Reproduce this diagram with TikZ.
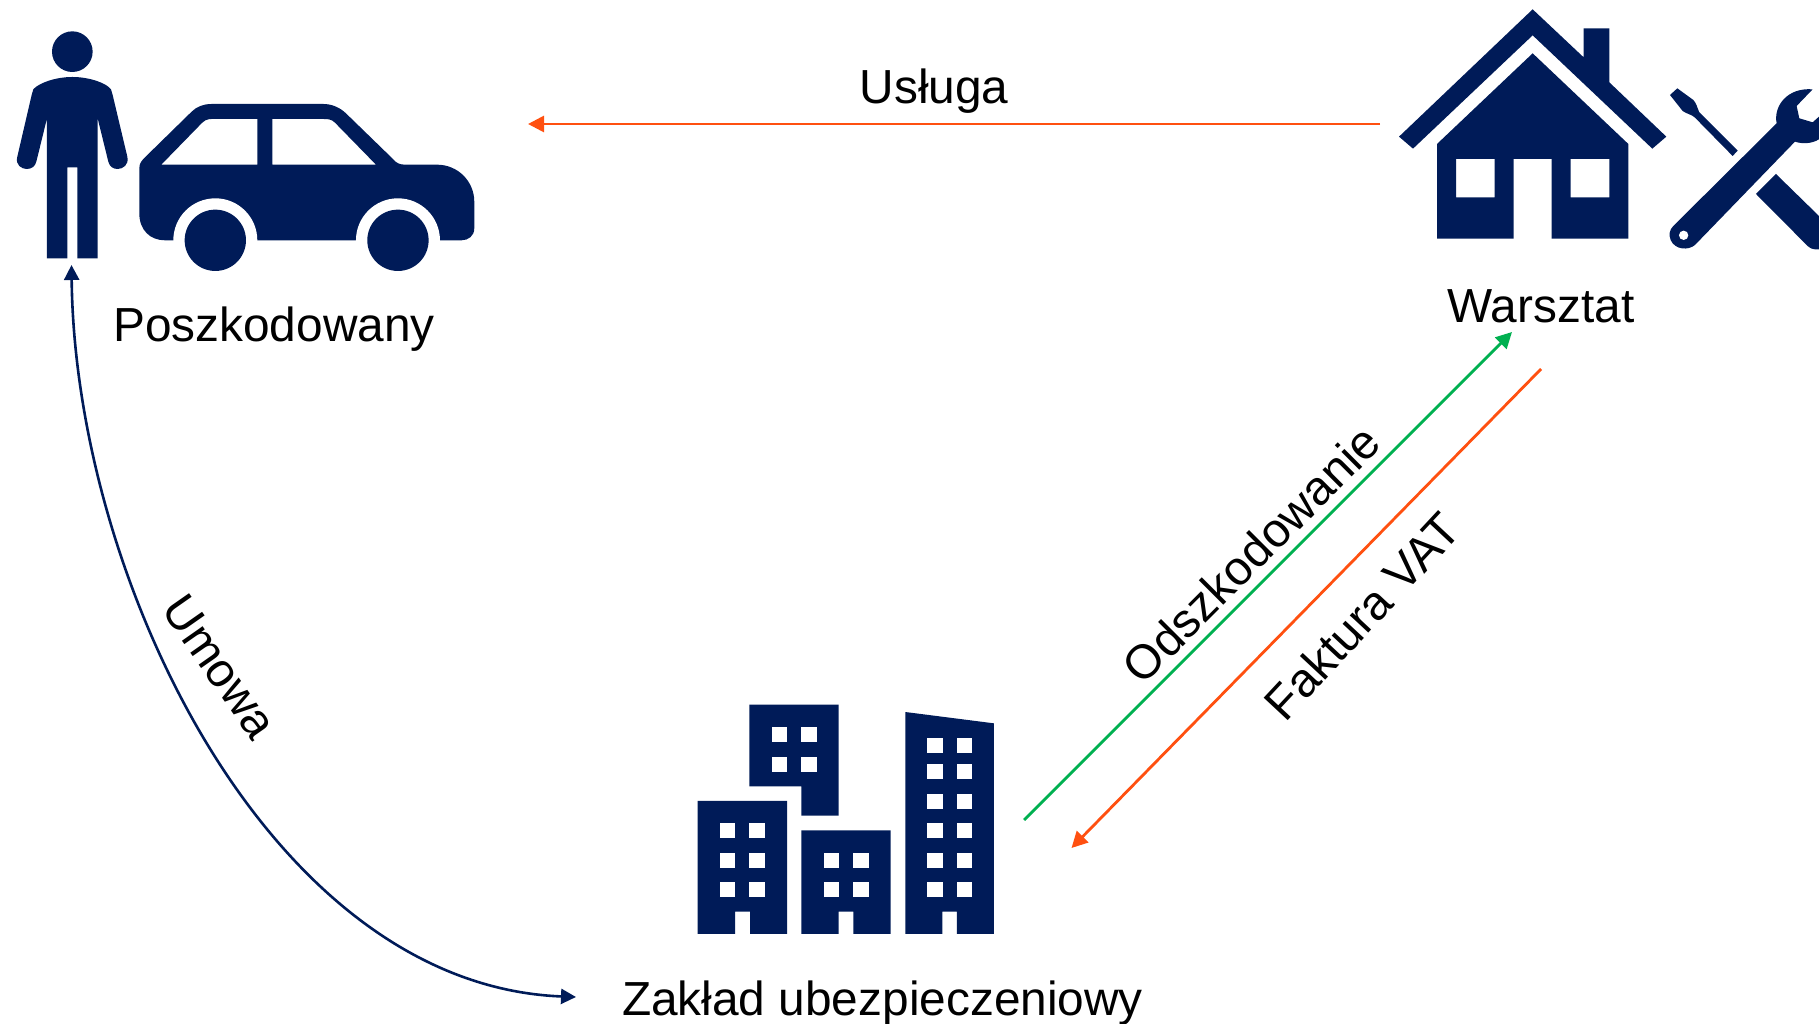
\documentclass[tikz,border=0pt]{standalone}
\usepackage{fontspec}
\setmainfont{Liberation Sans}
\usetikzlibrary{arrows.meta}
\definecolor{navy}{HTML}{001B58}
\definecolor{orng}{HTML}{FF5010}
\definecolor{grn}{HTML}{00B050}
\tikzset{
  icon/.style={fill=navy,draw=none},
  hole/.style={fill=white,draw=none},
  lbl/.style={inner sep=0pt,font=\fontsize{47.8}{50}\selectfont,text=black},
  conn/.style={line width=2.8pt,-{Triangle[length=16pt,width=16pt]}},
  zoomed/.style={x=0.3333pt,y=-0.3333pt}
}
\begin{document}
\begin{tikzpicture}[x=1pt,y=-1pt]
\useasboundingbox (0,0) rectangle (1819,1024);
% person and car
\begin{scope}[zoomed]
\fill[icon] (217,155) circle[radius=61];
\fill[icon] (217,231) .. controls (165,231) and (115,250) .. (100,268) -- (95,285) -- (52,470)
  .. controls (45,495) and (65,507) .. (80,507) .. controls (95,507) and (105,500) .. (109,485)
  -- (141,355) -- (141,775) -- (202,775) -- (202,502) -- (232,502) -- (232,775) -- (293,775) -- (293,355)
  -- (325,485) .. controls (329,500) and (339,507) .. (353,507) .. controls (368,507) and (388,495) .. (382,470)
  -- (338,285) -- (333,268) .. controls (320,250) and (270,231) .. (217,231) -- cycle;
\fill[icon,even odd rule] (418,505) .. controls (418,490) and (425,482) .. (435,472) -- (575,335)
  .. controls (590,320) and (610,312) .. (635,312) -- (970,312) .. controls (995,312) and (1020,322) .. (1040,342)
  -- (1180,478) .. controls (1190,490) and (1200,494) .. (1215,494) -- (1310,494)
  .. controls (1375,494) and (1423,545) .. (1423,605) -- (1423,685) .. controls (1423,708) and (1405,721) .. (1385,721)
  -- (495,721) .. controls (450,721) and (418,690) .. (418,640) -- cycle
  (484,494) -- (600,375) .. controls (612,362) and (620,357) .. (635,357) -- (772,357) -- (772,494) -- cycle
  (817,357) -- (970,357) .. controls (985,357) and (995,358) .. (1005,368) -- (1128,494) -- (817,494) -- cycle;
\fill[hole] (646,721) circle[radius=126] (1194,721) circle[radius=126];
\fill[icon] (646,721) circle[radius=92] (1194,721) circle[radius=92];
\end{scope}
% house and tools
\begin{scope}[zoomed,shift={(1380pt,0pt)}]
\fill[icon] (458,28) -- (611,172) -- (611,85) -- (688,85) -- (688,247) -- (859,410) -- (817,446) -- (458,106) -- (99,446) -- (57,410) -- cycle;
\fill[icon,even odd rule] (458,160) -- (745,432) -- (745,716) -- (515,716) -- (515,477) -- (401,477) -- (401,716) -- (171,716) -- (171,432) -- cycle
  (228,477) rectangle (344,592) (572,477) rectangle (688,592);
\fill[icon] (870,285) -- (892,265) -- (940,300) .. controls (950,310) and (952,325) .. (958,337) -- (1073,452) -- (1058,468) -- (945,353) .. controls (935,343) and (920,342) .. (908,333) -- cycle;
\fill[icon] (1190,370) .. controls (1180,320) and (1220,262) .. (1298,268) -- (1250,318) -- (1258,355) -- (1298,367) -- (1317,350) -- (1317,418)
  .. controls (1295,432) and (1265,432) .. (1245,425) -- (945,735) .. controls (925,752) and (885,750) .. (872,720) .. controls (866,705) and (868,690) .. (880,678) -- cycle;
\fill[hole] (911,706) circle[radius=14];
\fill[icon] (1128,582) -- (1188,522) -- (1317,648) -- (1317,748) -- (1305,748) .. controls (1290,748) and (1280,735) .. (1275,730) -- cycle;
\end{scope}
% buildings
\begin{scope}[zoomed,shift={(680pt,-690pt)}]
\fill[icon] (208,44) -- (476,44) -- (476,377) -- (364,377) -- (364,289) -- (208,289) -- cycle;
\fill[icon] (53,333) -- (321,333) -- (321,732) -- (210,732) -- (210,665) -- (165,665) -- (165,732) -- (53,732) -- cycle;
\fill[icon] (364,421) -- (632,421) -- (632,732) -- (520,732) -- (520,665) -- (476,665) -- (476,732) -- (364,732) -- cycle;
\fill[icon] (676,66) -- (942,100) -- (942,732) -- (831,732) -- (831,665) -- (787,665) -- (787,732) -- (676,732) -- cycle;
\foreach \xa in {275,364} \foreach \ya in {111,200}
  \fill[hole] (\xa,\ya) rectangle ++(46,45);
\foreach \xa in {120,208} \foreach \ya in {400,488,577}
  \fill[hole] (\xa,\ya) rectangle ++(46,45);
\foreach \xa in {431,520} \foreach \ya in {488,577}
  \fill[hole] (\xa,\ya) rectangle ++(46,45);
\foreach \xa in {742,831} \foreach \ya in {144,222,311,400,488,577}
  \fill[hole] (\xa,\ya) rectangle ++(46,45);
\end{scope}
% labels
\node[lbl,anchor=base] (poszk) at (274,341) {Poszkodowany};
\node[lbl,anchor=base] (warsztat) at (1541,322) {Warsztat};
\node[lbl,anchor=base] (zaklad) at (882.5,1015) {Zakład ubezpieczeniowy};
\node[lbl,anchor=base] (usluga) at (934,104) {Usługa};
\node[lbl,rotate=45] (odsz) at (1251,554) {Odszkodowanie};
\node[lbl,rotate=47] (fakt) at (1362,616) {Faktura VAT};
\node[lbl,rotate=-55] (umowa) at (220,667) {Umowa};
% connector ends
\coordinate (warsztatW) at (1380,124);
\coordinate (poszkE) at (528,124);
\coordinate (personS) at (71.5,265);
\coordinate (zakladW) at (576,997);
\coordinate (zakladNE) at (1024,820);
\coordinate (warsztatSW) at (1512,332);
\coordinate (warsztatS) at (1541,369);
\coordinate (zakladE) at (1071.5,848);
% connectors
\draw[conn,orng] (warsztatW) -- (poszkE);
\draw[conn,grn] (zakladNE) -- (warsztatSW);
\draw[conn,orng] (warsztatS) -- (zakladE);
\draw[line width=2.6pt,navy,{Triangle[length=15pt,width=15pt]}-{Triangle[length=15pt,width=15pt]}] (personS) .. controls (75,580) and (270,985) .. (zakladW);
\end{tikzpicture}
\end{document}
